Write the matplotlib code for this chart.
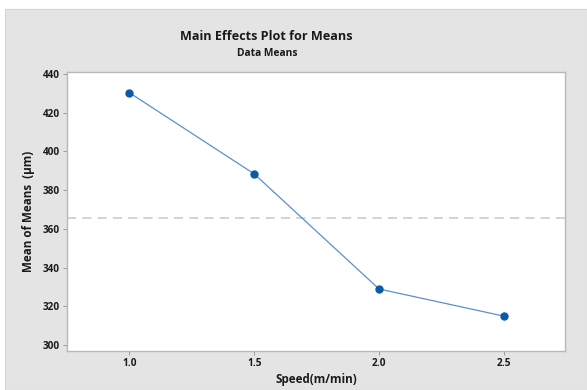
import matplotlib
matplotlib.use("Agg")
import matplotlib.pyplot as plt
from matplotlib.patches import Rectangle

plt.rcParams['font.family'] = ['Open Sans', 'DejaVu Sans']

speed = [1.0, 1.5, 2.0, 2.5]
means = [430.3, 388.4, 329.0, 315.0]
xticks = [1.0, 1.5, 2.0, 2.5]
xtick_labels = ["1.0", "1.5", "2.0", "2.5"]
yticks = [300, 320, 340, 360, 380, 400, 420, 440]
grand_mean = sum(means) / len(means)

W, H = 587, 390
fig = plt.figure(figsize=(W / 100, H / 100), dpi=100)
fig.patch.set_facecolor('white')
# gray panel
panel = Rectangle((5 / W, 0), 1 - 5 / W, 1 - 9 / H, transform=fig.transFigure,
                  facecolor='#e4e4e4', edgecolor='#d4d4d4', lw=0.8, zorder=-10)
fig.patches.append(panel)

left, right, top, bottom = 67, 565, 72, 351
ax = fig.add_axes([left / W, 1 - bottom / H, (right - left) / W, (bottom - top) / H])
ax.set_zorder(5)
ax.set_facecolor('white')

ax.plot(speed, means, color='#5b8fd0', lw=0.9, zorder=2)
ax.plot(speed, means, 'o', color='#0a5aa8', ms=5, zorder=3)
ax.axhline(grand_mean, color='#c8c8c8', lw=1.1, ls=(0, (6, 4)), zorder=1)

ax.set_xlim(0.75, 2.745)
ax.set_ylim(297, 441)
ax.set_xticks(xticks)
ax.set_xticklabels(xtick_labels)
ax.set_yticks(yticks)

for s in ax.spines.values():
    s.set_color('#b8b8b8')
    s.set_linewidth(1.0)
ax.tick_params(axis='both', colors='#909090', length=3, width=0.6, labelsize=7.2,
               labelcolor='#1a1a1a', pad=2)
for lbl in ax.get_xticklabels() + ax.get_yticklabels():
    lbl.set_fontweight('bold')

ax.set_xlabel('Speed(m/min)', fontsize=8.4, fontweight='bold', color='#1a1a1a', labelpad=3)
ax.set_ylabel('Mean of Means  (\u00b5m)', fontsize=8.4, fontweight='bold', color='#1a1a1a', labelpad=6)

fig.text(266 / W, 1 - 36 / H, 'Main Effects Plot for Means', ha='center', va='center',
         fontsize=9.1, fontweight='bold', color='#1a1a1a', zorder=6)
fig.text(267 / W, 1 - 53 / H, 'Data Means', ha='center', va='center',
         fontsize=7.4, fontweight='bold', color='#1a1a1a', zorder=6)

fig.savefig('out.png', dpi=100, facecolor=fig.get_facecolor())
